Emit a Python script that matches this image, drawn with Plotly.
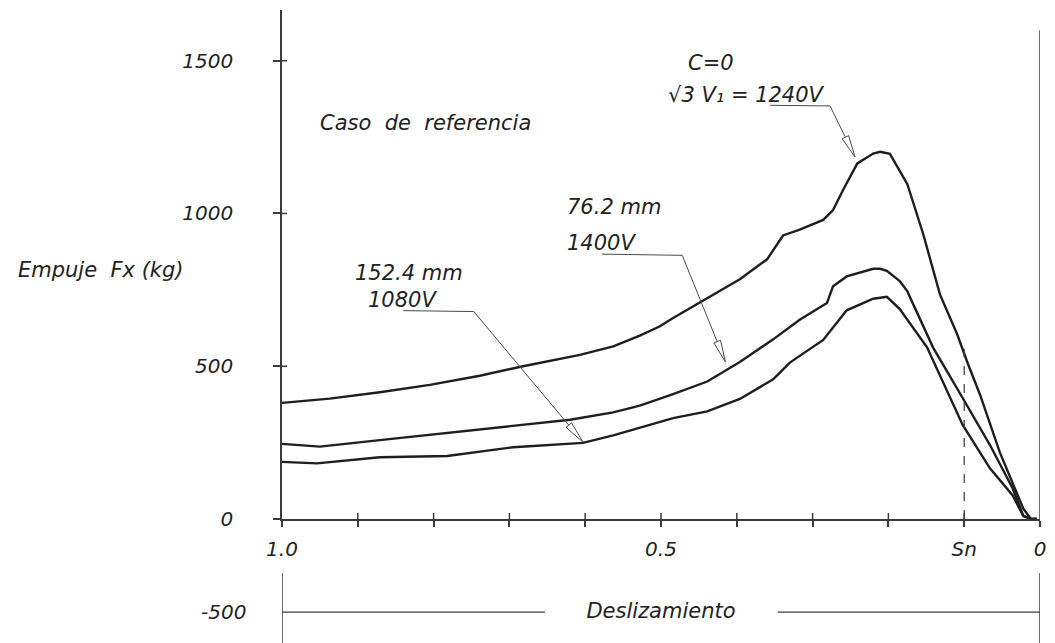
import numpy as np
import plotly.graph_objects as go

# ---------------- data ----------------
# Deslizamiento (slip) values and Empuje Fx (kg)
slip_c0 = [1.0, 0.937, 0.871, 0.805, 0.739, 0.682, 0.607, 0.563, 0.528, 0.502, 0.484,
           0.439, 0.396, 0.360, 0.339, 0.317, 0.286, 0.273, 0.260, 0.241, 0.220, 0.211,
           0.198, 0.175, 0.154, 0.132, 0.109, 0.096, 0.079, 0.053, 0.022, 0.012, 0.004]
fx_c0 = [380, 394, 415, 439, 469, 500, 537, 565, 600, 630, 658,
         722, 785, 850, 928, 947, 979, 1011, 1076, 1164, 1196, 1202,
         1195, 1096, 932, 735, 603, 514, 406, 218, 34, 0, 0]

slip_762 = [1.0, 0.950, 0.871, 0.782, 0.695, 0.620, 0.563, 0.528, 0.484, 0.439, 0.396,
            0.352, 0.317, 0.281, 0.273, 0.255, 0.220, 0.211, 0.202, 0.185, 0.175, 0.141,
            0.102, 0.066, 0.036, 0.022, 0.012, 0.004]
fx_762 = [246, 237, 258, 281, 304, 325, 349, 371, 409, 450, 514,
          588, 652, 707, 762, 794, 819, 819, 812, 779, 745, 561,
          396, 242, 100, 10, 0, 0]

slip_1524 = [1.0, 0.954, 0.871, 0.782, 0.695, 0.603, 0.563, 0.528, 0.484, 0.439, 0.396,
             0.352, 0.330, 0.286, 0.255, 0.220, 0.202, 0.185, 0.149, 0.102, 0.066, 0.036,
             0.022, 0.012, 0.004]
fx_1524 = [187, 182, 202, 206, 235, 249, 274, 299, 330, 352, 393,
           457, 512, 586, 683, 721, 727, 687, 562, 308, 166, 77,
           10, 0, 0]

x_label_vals = [1.0, 0.5, 0.1, 0.0]
x_label_text = ["1.0", "0.5", "Sn", "0"]
x_minor_vals = [0.9, 0.8, 0.7, 0.6, 0.4, 0.3, 0.2]
x_all_inner = [0.9, 0.8, 0.7, 0.6, 0.5, 0.4, 0.3, 0.2, 0.1]
y_tick_vals = [0, 500, 1000, 1500]
y_tick_text = ["0", "500", "1000", "1500"]
sn_value = 0.1

# ---------------- geometry ----------------
W, H = 1055, 643
ML, MR, MT, MB = 282, 15, 10, 124
PW, PH = W - ML - MR, H - MT - MB
X_RANGE = [1.0, 0.0]
Y_MAX = 1666
Y_RANGE = [0, Y_MAX]
PX_X = PW / (X_RANGE[0] - X_RANGE[1])   # px per slip unit (leftwards)
PX_Y = PH / Y_MAX                        # px per kg (upwards)

INK = "#1e1e1e"
AX = "#3a3a3a"
FONT = dict(family="DejaVu Sans", size=21, color="#222222", style="italic")
TFONT = dict(family="DejaVu Sans", size=20, color="#222222", style="italic")

fig = go.Figure()

for xs, ys in [(slip_c0, fx_c0), (slip_762, fx_762), (slip_1524, fx_1524)]:
    fig.add_trace(go.Scatter(x=xs, y=ys, mode="lines",
                             line=dict(color=INK, width=2.4),
                             showlegend=False, hoverinfo="skip"))

# Sn dashed marker up to the upper curve
sn_top = float(np.interp(sn_value, slip_c0[::-1], fx_c0[::-1])) + 15
fig.add_trace(go.Scatter(x=[sn_value, sn_value], y=[0, sn_top], mode="lines",
                         line=dict(color=AX, width=1.2, dash="dash"),
                         showlegend=False, hoverinfo="skip"))

shapes = []
# inner halves of the cross-shaped ticks
for xv in x_all_inner:
    shapes.append(dict(type="line", xref="x", yref="y", ysizemode="pixel", yanchor=0,
                       x0=xv, x1=xv, y0=0, y1=6, line=dict(color=AX, width=1.5)))
for yv in y_tick_vals[1:]:
    shapes.append(dict(type="line", xref="x", yref="y", xsizemode="pixel", xanchor=1.0,
                       x0=0, x1=5, y0=yv, y1=yv, line=dict(color=AX, width=1.5)))
# right border line at slip 0
shapes.append(dict(type="line", xref="x", yref="y", x0=0, x1=0, y0=0, y1=1600,
                   line=dict(color=AX, width=1.5)))
# Deslizamiento bracket below the axis
for xv in [1.0, 0.0]:
    shapes.append(dict(type="line", xref="x", yref="paper", x0=xv, x1=xv,
                       y0=-0.106, y1=-0.26, line=dict(color=AX, width=1.5)))
shapes.append(dict(type="line", xref="x", yref="paper", x0=1.0, x1=0.653,
                   y0=-0.183, y1=-0.183, line=dict(color=AX, width=1.2)))
shapes.append(dict(type="line", xref="x", yref="paper", x0=0.346, x1=0.0,
                   y0=-0.183, y1=-0.183, line=dict(color=AX, width=1.2)))


def leader(points, L=22, w=3.6):
    """polyline leader ending with an open, elongated arrow head"""
    (xa, ya), (xt, yt) = points[-2], points[-1]
    dx = -(xt - xa) * PX_X
    dy = (yt - ya) * PX_Y
    n = (dx * dx + dy * dy) ** 0.5
    ux, uy = dx / n, dy / n
    bx, by = -L * ux, -L * uy
    px_, py_ = -uy, ux
    def to_data(ox, oy):
        return xt - ox / PX_X, yt + oy / PX_Y
    base = to_data(bx, by)
    c1 = to_data(bx + w * px_, by + w * py_)
    c2 = to_data(bx - w * px_, by - w * py_)
    pts = points[:-1] + [base]
    path = "M " + " L ".join(f"{p[0]},{p[1]}" for p in pts)
    shapes.append(dict(type="path", xref="x", yref="y", path=path,
                       line=dict(color="#4a4a4a", width=1)))
    tri = f"M {c1[0]},{c1[1]} L {xt},{yt} L {c2[0]},{c2[1]} Z"
    shapes.append(dict(type="path", xref="x", yref="y", path=tri,
                       fillcolor="white", line=dict(color="#4a4a4a", width=1)))


leader([(0.356, 1354), (0.277, 1352), (0.244, 1185)])
leader([(0.578, 867), (0.472, 863), (0.415, 514)])
leader([(0.840, 682), (0.747, 679), (0.603, 252)])

ann = []
def txt(x, y, s, xanchor="center", xref="x", yref="y", font=FONT):
    ann.append(dict(x=x, y=y, text=s, xref=xref, yref=yref, showarrow=False,
                    xanchor=xanchor, yanchor="middle", font=font))

txt(0.434, 1491, "C=0")
txt(0.387, 1388, "√3 V₁ = 1240V")
txt(0.811, 1297, "Caso  de  referencia")
txt(0.627, 1020, "76.2 mm", xanchor="left")
txt(0.627, 905, "1400V", xanchor="left")
txt(0.906, 805, "152.4 mm", xanchor="left")
txt(0.889, 716, "1080V", xanchor="left")
txt(-0.239, 0.489, "Empuje  Fx (kg)", xref="paper", yref="paper")
txt(-0.045, -0.183, "-500", xanchor="right", xref="paper", yref="paper", font=TFONT)

fig.update_layout(
    width=W, height=H,
    margin=dict(l=ML, r=MR, t=MT, b=MB),
    paper_bgcolor="white", plot_bgcolor="white",
    showlegend=False,
    shapes=shapes, annotations=ann,
    xaxis=dict(range=X_RANGE, showgrid=False, zeroline=False, automargin=False,
               showline=True, linecolor=AX, linewidth=1.5,
               title=dict(text="Deslizamiento", font=FONT, standoff=44),
               tickmode="array", tickvals=x_label_vals, ticktext=x_label_text,
               ticks="outside", ticklen=6, tickwidth=1.5, tickcolor=AX,
               minor=dict(tickmode="array", tickvals=x_minor_vals, ticks="outside",
                          ticklen=6, tickwidth=1.5, tickcolor=AX, showgrid=False),
               tickfont=TFONT, ticklabelstandoff=5),
    yaxis=dict(range=Y_RANGE, showgrid=False, zeroline=False, automargin=False,
               showline=True, linecolor=AX, linewidth=1.5,
               tickmode="array", tickvals=y_tick_vals, ticktext=y_tick_text,
               ticks="outside", ticklen=7, tickwidth=1.5, tickcolor=AX,
               tickfont=TFONT, ticklabelstandoff=36),
)

fig.write_html("out.html")
